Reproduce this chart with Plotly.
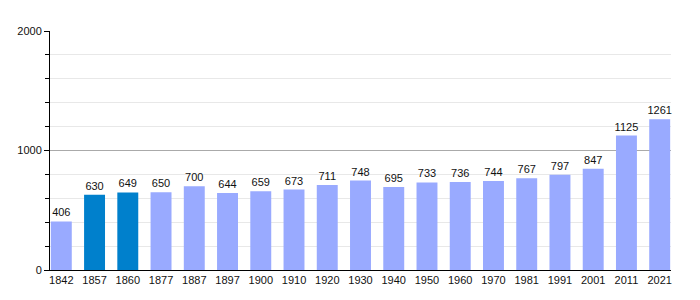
import plotly.graph_objects as go

years = ["1842", "1857", "1860", "1877", "1887", "1897", "1900", "1910", "1920", "1930",
         "1940", "1950", "1960", "1970", "1981", "1991", "2001", "2011", "2021"]
population = [406, 630, 649, 650, 700, 644, 659, 673, 711, 748,
              695, 733, 736, 744, 767, 797, 847, 1125, 1261]
highlight = ["1857", "1860"]

LIGHT = "#99aaff"
DARK = "#0080cc"
colors = [DARK if y in highlight else LIGHT for y in years]

fig = go.Figure()
fig.add_trace(go.Bar(
    x=list(range(len(years))), y=population,
    marker=dict(color=colors, line=dict(width=0)),
    text=[str(v) for v in population], textposition="outside",
    textfont=dict(family="Liberation Sans, Arial", size=11, color="#111"),
    cliponaxis=False, width=0.63,
))

fig.update_layout(
    width=700, height=300,
    margin=dict(l=50, r=29, t=31, b=30),
    paper_bgcolor="white", plot_bgcolor="white",
    showlegend=False,
    uniformtext=dict(minsize=11, mode="show"),
    font=dict(family="Liberation Sans, Arial", size=11, color="#111"),
    xaxis=dict(
        range=[-0.34, len(years) - 1 + 0.34],
        tickmode="array", tickvals=list(range(len(years))), ticktext=years,
        showgrid=False, zeroline=False,
        showline=True, linecolor="black", linewidth=1,
        ticks="", tickfont=dict(size=11),
    ),
    yaxis=dict(
        range=[0, 2000], tickmode="array", tickvals=[0, 1000, 2000],
        showgrid=True, gridcolor="#aaaaaa", gridwidth=1,
        zeroline=False,
        showline=True, linecolor="black", linewidth=1,
        ticks="outside", ticklen=5, tickcolor="black",
        tickfont=dict(size=11),
        minor=dict(dtick=200, tick0=0, showgrid=True, gridcolor="#e8e8e8",
                   ticks="outside", ticklen=4, tickcolor="black"),
    ),
)

fig.write_html("out.html")
